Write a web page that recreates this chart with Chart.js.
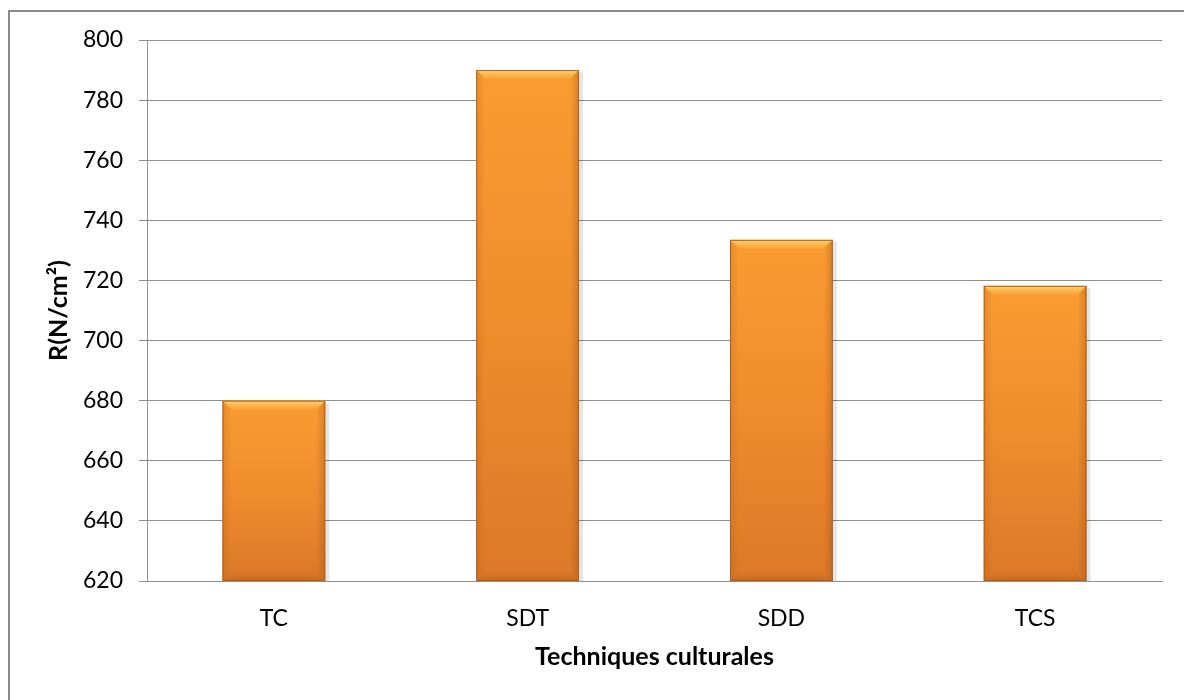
<!DOCTYPE html>
<html>
<head>
<meta charset="utf-8">
<script src="https://cdn.jsdelivr.net/npm/chart.js@4.4.1/dist/chart.umd.min.js"></script>
<style>
    html, body { margin: 0; padding: 0; background: #fff; overflow: hidden; }
    #wrap { position: absolute; left: 0; top: 0; width: 1184px; height: 700px; }
    #frame {
        position: absolute; left: 8px; top: 10px; width: 1300px; height: 800px;
        border-left: 2px solid #8a8a8a; border-top: 2px solid #8a8a8a;
        pointer-events: none;
    }
</style>
</head>
<body>
<div id="wrap"><canvas id="resistanceChart" width="1184" height="700"></canvas></div>
<div id="frame"></div>
<script>
const categories = ['TC', 'SDT', 'SDD', 'TCS'];
const resistanceValues = [680, 790, 733.5, 718.2];
const yTicks = [620, 640, 660, 680, 700, 720, 740, 760, 780, 800];

const fontFamily = 'Lato, "Open Sans", sans-serif';
const gridGray = '#8e8e8e';

// vertical gradient per bar, from its top down to the axis
function barFill(ctx) {
    const chart = ctx.chart;
    const area = chart.chartArea;
    if (!area) return '#F29330';
    const yScale = chart.scales.y;
    const top = yScale.getPixelForValue(resistanceValues[ctx.dataIndex]);
    const g = chart.ctx.createLinearGradient(0, top, 0, area.bottom);
    g.addColorStop(0, '#FA9C31');
    g.addColorStop(0.5, '#EF8C2D');
    g.addColorStop(1, '#DC7828');
    return g;
}

// bevel edges and a soft shadow on each bar
const bevelPlugin = {
    id: 'bevel',
    beforeDatasetsDraw(chart) {
        const ctx = chart.ctx;
        const area = chart.chartArea;
        chart.getDatasetMeta(0).data.forEach(bar => {
            const left = bar.x - bar.width / 2;
            const b = Math.min(bar.base, area.bottom);
            ctx.save();
            ctx.fillStyle = 'rgba(0,0,0,0.10)';
            ctx.fillRect(left + 2, bar.y + 2, bar.width + 2, b - bar.y - 2);
            ctx.restore();
        });
    },
    afterDatasetsDraw(chart) {
        const ctx = chart.ctx;
        const area = chart.chartArea;
        chart.getDatasetMeta(0).data.forEach(bar => {
            const l = bar.x - bar.width / 2;
            const r = bar.x + bar.width / 2;
            const t = bar.y;
            const b = Math.min(bar.base, area.bottom);
            const d = 9;
            ctx.save();
            // top highlight
            let g = ctx.createLinearGradient(0, t, 0, t + d);
            g.addColorStop(0, 'rgba(255,220,120,0.9)');
            g.addColorStop(1, 'rgba(255,200,90,0.15)');
            ctx.fillStyle = g;
            ctx.beginPath();
            ctx.moveTo(l, t); ctx.lineTo(r, t); ctx.lineTo(r - d, t + d); ctx.lineTo(l + d, t + d);
            ctx.closePath(); ctx.fill();
            // left edge
            g = ctx.createLinearGradient(l, 0, l + d, 0);
            g.addColorStop(0, 'rgba(160,80,20,0.22)');
            g.addColorStop(1, 'rgba(160,80,20,0)');
            ctx.fillStyle = g;
            ctx.beginPath();
            ctx.moveTo(l, t); ctx.lineTo(l + d, t + d); ctx.lineTo(l + d, b - d); ctx.lineTo(l, b);
            ctx.closePath(); ctx.fill();
            // right edge
            g = ctx.createLinearGradient(r, 0, r - d, 0);
            g.addColorStop(0, 'rgba(140,70,15,0.32)');
            g.addColorStop(1, 'rgba(140,70,15,0)');
            ctx.fillStyle = g;
            ctx.beginPath();
            ctx.moveTo(r, t); ctx.lineTo(r - d, t + d); ctx.lineTo(r - d, b - d); ctx.lineTo(r, b);
            ctx.closePath(); ctx.fill();
            // bottom edge
            g = ctx.createLinearGradient(0, b, 0, b - d);
            g.addColorStop(0, 'rgba(150,75,15,0.32)');
            g.addColorStop(1, 'rgba(150,75,15,0)');
            ctx.fillStyle = g;
            ctx.beginPath();
            ctx.moveTo(l, b); ctx.lineTo(l + d, b - d); ctx.lineTo(r - d, b - d); ctx.lineTo(r, b);
            ctx.closePath(); ctx.fill();
            ctx.strokeStyle = '#B0601C';
            ctx.lineWidth = 1;
            ctx.strokeRect(l + 0.5, t + 0.5, bar.width - 1, b - t - 1);
            ctx.restore();
        });
    }
};

const ctx = document.getElementById('resistanceChart').getContext('2d');
const resistanceChart = new Chart(ctx, {
    type: 'bar',
    data: {
        labels: categories,
        datasets: [{
            label: 'R(N/cm²)',
            data: resistanceValues,
            backgroundColor: barFill,
            borderWidth: 0,
            categoryPercentage: 0.81,
            barPercentage: 0.5,
        }]
    },
    options: {
        responsive: false,
        animation: false,
        layout: { padding: { left: 0, right: 22, top: 40, bottom: 0 } },
        plugins: {
            legend: { display: false },
            tooltip: { enabled: false },
        },
        scales: {
            x: {
                grid: { display: false },
                border: { display: true, color: gridGray, width: 1 },
                ticks: { color: '#000', font: { family: fontFamily, size: 23 }, padding: 16 },
                title: {
                    display: true,
                    text: 'Techniques culturales',
                    color: '#000',
                    font: { family: fontFamily, size: 25, weight: 'bold' },
                    padding: { top: 0, bottom: 28 },
                },
                afterFit(scale) { scale.height = 119; },
            },
            y: {
                min: 620,
                max: 800,
                afterBuildTicks(scale) { scale.ticks = yTicks.map(v => ({ value: v })); },
                grid: { color: gridGray, lineWidth: 1, tickLength: 8, drawTicks: true },
                border: { display: true, color: gridGray, width: 1 },
                ticks: { color: '#000', font: { family: fontFamily, size: 23 }, padding: 16 },
                title: {
                    display: true,
                    text: 'R(N/cm²)',
                    color: '#000',
                    font: { family: fontFamily, size: 25, weight: 'bold' },
                    padding: { top: 44, bottom: 44 },
                },
                afterFit(scale) { scale.width = 147; },
            }
        }
    },
    plugins: [bevelPlugin]
});
</script>
</body>
</html>
